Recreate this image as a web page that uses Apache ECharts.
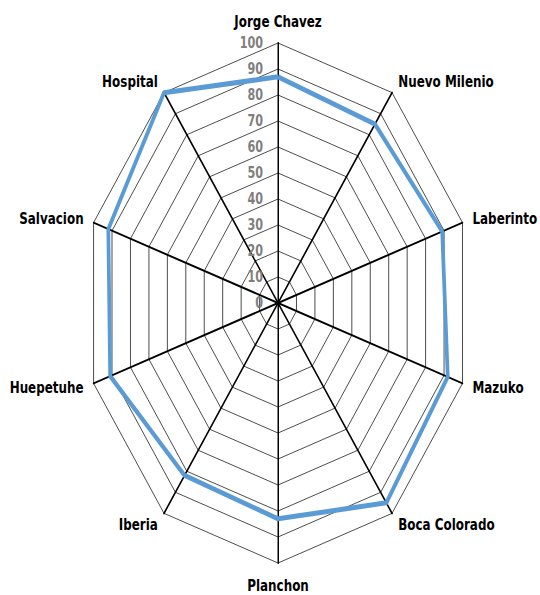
<!DOCTYPE html>
<html>
<head>
<meta charset="utf-8">
<script src="https://cdn.jsdelivr.net/npm/echarts@6/dist/echarts.min.js"></script>
<style>
  html, body { margin: 0; padding: 0; background: #fff; overflow: hidden; }
  /* the source picture is squeezed sideways, so draw a round radar and squeeze it */
  #chart { width: 724px; height: 595px; transform: scaleX(0.746); transform-origin: 0 0; }
</style>
</head>
<body>
<div id="chart"></div>
<script>
// clockwise from the top
const categories = ['Jorge Chavez', 'Nuevo Milenio', 'Laberinto', 'Mazuko', 'Boca Colorado',
  'Planchon', 'Iberia', 'Huepetuhe', 'Salvacion', 'Hospital'];
const values = [87, 85, 89, 92, 95, 83, 82, 91, 92, 100];
const axisMax = 100;
const axisStep = 10;

// echarts lays indicators out counter-clockwise, so keep the first and flip the rest
const order = [0].concat(categories.map((c, i) => i).slice(1).reverse());

const chartDom = document.getElementById('chart');
const chartIns = echarts.init(chartDom, null, {renderer: 'svg'});

const options = {
  backgroundColor: '#fff',
  animation: false,
  radar: {
    center: [372.7, 303],
    radius: 260,
    startAngle: 90,
    shape: 'polygon',
    splitNumber: axisMax / axisStep,
    nameGap: 14,
    axisName: {
      color: '#000',
      fontFamily: 'DejaVu Sans',
      fontWeight: 'bold',
      fontSize: 16,
    },
    axisLine: {
      lineStyle: {color: '#000', width: 2},
    },
    splitLine: {
      lineStyle: {color: '#333', width: 1},
    },
    splitArea: {show: false},
    axisTick: {show: false},
    axisLabel: {show: false},
    indicator: order.map((i) => ({
      name: categories[i],
      min: 0,
      max: axisMax,
      // only the top axis carries the scale
      axisLabel: i === 0 ? {
        show: true,
        margin: 20,
        color: '#7f7f7f',
        fontFamily: 'DejaVu Sans',
        fontWeight: 'bold',
        fontSize: 15,
      } : {show: false},
    })),
  },
  series: [
    {
      type: 'radar',
      symbol: 'none',
      lineStyle: {color: '#5b9bd5', width: 5},
      data: [{value: order.map((i) => values[i])}],
    },
  ],
};

chartIns.setOption(options);
</script>
</body>
</html>
